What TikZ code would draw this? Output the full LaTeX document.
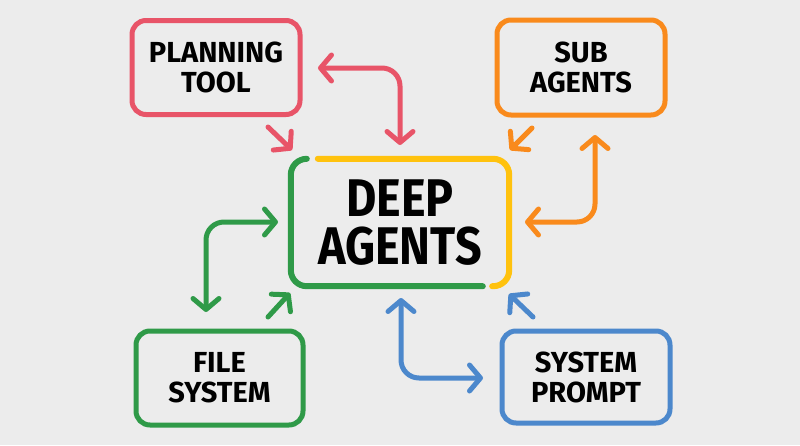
\documentclass[tikz,border=0pt]{standalone}
\usepackage{fontspec}
\setmainfont{Fira Sans}
\newfontfamily\bigfont[FakeStretch=0.88]{Fira Sans}
\usetikzlibrary{arrows.meta}
\definecolor{bg}{HTML}{ECECEC}
\definecolor{cred}{HTML}{E85468}
\definecolor{corange}{HTML}{F98A1C}
\definecolor{cgreen}{HTML}{2F9A48}
\definecolor{cyellow}{HTML}{FFC20E}
\definecolor{cblue}{HTML}{4C88CC}
\tikzset{
  box/.style={draw, line width=5pt, rounded corners=14pt, minimum width=168pt,
    minimum height=94pt, inner sep=0pt, align=center,
    font=\bfseries\fontsize{29}{30}\selectfont, text=black},
  core/.style={minimum width=218pt, minimum height=127pt, inner sep=0pt, align=center,
    font=\bigfont\bfseries\fontsize{53}{48}\selectfont, text=black},
  rim/.style={line width=6pt, line cap=round, rounded corners=16pt},
  tip/.tip={Straight Barb[round, length=11pt, width=26pt]},
  arr/.style={line width=5pt, line cap=round, line join=round, rounded corners=18pt},
}
\begin{document}
\begin{tikzpicture}[x=1pt, y=-1pt]
\fill[bg] (0,0) rectangle (800,445);
\useasboundingbox (0,0) rectangle (800,445);

\node[box, draw=cred] (plan) at (216,67.5) {PLANNING\\TOOL};
\node[box, draw=corange, minimum height=95pt] (sub) at (581,67.5) {SUB\\AGENTS};
\node[box, draw=cgreen, minimum width=167pt] (file) at (219.5,378) {FILE\\SYSTEM};
\node[box, draw=cblue, minimum height=92pt] (prompt) at (586,377) {SYSTEM\\PROMPT};
\node[core] (deep) at (400,222.5) {DEEP\\AGENTS};

% multicoloured rim of the central box
\draw[rim, cgreen] ([xshift=16pt]deep.north west) -- (deep.north west)
   -- (deep.south west) -- ([xshift=192pt]deep.south west);
\draw[rim, cyellow] ([xshift=27pt]deep.north west) -- (deep.north east)
   -- (deep.south east) -- ([xshift=-17pt]deep.south east);

% arrow end points
\coordinate (pa) at (318,68);  \coordinate (pc) at (400,68);  \coordinate (pb) at (400,145);
\coordinate (ps1) at (268,127); \coordinate (ps2) at (292,150);
\coordinate (sa) at (595,135); \coordinate (sc) at (595,222); \coordinate (sb) at (525,222);
\coordinate (ss1) at (532,128); \coordinate (ss2) at (510,150);
\coordinate (fa) at (206,312); \coordinate (fc) at (206,222); \coordinate (fb) at (278,222);
\coordinate (fs1) at (268,317); \coordinate (fs2) at (290,293);
\coordinate (ya) at (401,298); \coordinate (yc) at (401,378); \coordinate (yb) at (483,378);
\coordinate (ys1) at (533,317); \coordinate (ys2) at (509,294);

\draw[arr, cred, tip-tip] (pa) -- (pc) -- (pb);
\draw[arr, cred, -tip] (ps1) -- (ps2);
\draw[arr, corange, tip-tip] (sa) -- (sc) -- (sb);
\draw[arr, corange, -tip] (ss1) -- (ss2);
\draw[arr, cgreen, tip-tip] (fa) -- (fc) -- (fb);
\draw[arr, cgreen, -tip] (fs1) -- (fs2);
\draw[arr, cblue, tip-tip] (ya) -- (yc) -- (yb);
\draw[arr, cblue, -tip] (ys1) -- (ys2);
\end{tikzpicture}
\end{document}
